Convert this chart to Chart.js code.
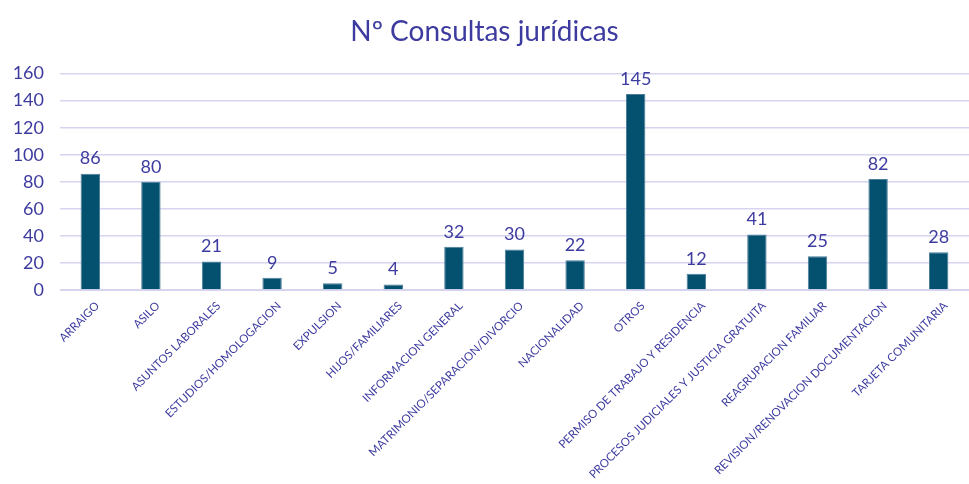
<!DOCTYPE html>
<html lang="es">
<head>
    <meta charset="UTF-8">
    <title>Nº Consultas jurídicas</title>
    <style>
        html, body { margin: 0; padding: 0; background: #fff; }
        #chart-container { width: 969px; height: 484px; }
    </style>
    <script src="https://cdn.jsdelivr.net/npm/chart.js"></script>
</head>
<body>
    <div id="chart-container">
        <canvas id="consultasChart" width="969" height="484"></canvas>
    </div>

    <script>
        // Data
        const categorias = [
            'ARRAIGO', 'ASILO', 'ASUNTOS LABORALES', 'ESTUDIOS/HOMOLOGACION', 'EXPULSION',
            'HIJOS/FAMILIARES', 'INFORMACION GENERAL', 'MATRIMONIO/SEPARACION/DIVORCIO',
            'NACIONALIDAD', 'OTROS', 'PERMISO DE TRABAJO Y RESIDENCIA',
            'PROCESOS JUDICIALES Y JUSTICIA GRATUITA', 'REAGRUPACION FAMILIAR',
            'REVISION/RENOVACION DOCUMENTACION', 'TARJETA COMUNITARIA'
        ];
        const consultas = [86, 80, 21, 9, 5, 4, 32, 30, 22, 145, 12, 41, 25, 82, 28];
        const yTicks = [0, 20, 40, 60, 80, 100, 120, 140, 160];

        const textColor = '#3d3b9f';
        const gridColor = '#d6d4ef';
        const barColor = '#03506f';

        // simple value labels above each bar
        const valueLabels = {
            id: 'valueLabels',
            afterDatasetsDraw(chart) {
                const ctx = chart.ctx;
                const meta = chart.getDatasetMeta(0);
                ctx.save();
                ctx.font = '18px Lato';
                ctx.fillStyle = textColor;
                ctx.textAlign = 'center';
                ctx.textBaseline = 'bottom';
                meta.data.forEach((bar, i) => {
                    ctx.fillText(consultas[i], bar.x, bar.y - 6);
                });
                ctx.restore();
            }
        };

        new Chart(document.getElementById('consultasChart'), {
            type: 'bar',
            data: {
                labels: categorias,
                datasets: [{
                    data: consultas,
                    backgroundColor: barColor,
                    borderColor: '#4d7d99',
                    borderWidth: 1,
                    categoryPercentage: 1,
                    barPercentage: 0.32
                }]
            },
            options: {
                responsive: false,
                animation: false,
                layout: { padding: { left: 0, right: 0, top: 0, bottom: 0 } },
                plugins: {
                    legend: { display: false },
                    tooltip: { enabled: false },
                    title: {
                        display: true,
                        text: 'Nº Consultas jurídicas',
                        color: textColor,
                        font: { family: 'Lato', size: 28, weight: 'normal' },
                        padding: { top: 15, bottom: 25 }
                    }
                },
                scales: {
                    x: {
                        grid: { display: false, drawTicks: false },
                        border: { color: gridColor },
                        ticks: {
                            color: textColor,
                            font: { family: 'Lato', size: 11.5 },
                            maxRotation: 45,
                            minRotation: 45,
                            autoSkip: false,
                            padding: 9,
                            labelOffset: 7
                        },
                        afterFit(scale) { scale.height = 194; }
                    },
                    y: {
                        min: 0,
                        max: 160,
                        afterBuildTicks(scale) { scale.ticks = yTicks.map(v => ({ value: v })); },
                        grid: { color: gridColor, drawTicks: false, lineWidth: 1.5 },
                        border: { display: false },
                        ticks: {
                            color: textColor,
                            font: { family: 'Lato', size: 18 },
                            padding: 16
                        },
                        afterFit(scale) { scale.width = 60; }
                    }
                }
            },
            plugins: [valueLabels]
        });
    </script>
</body>
</html>
